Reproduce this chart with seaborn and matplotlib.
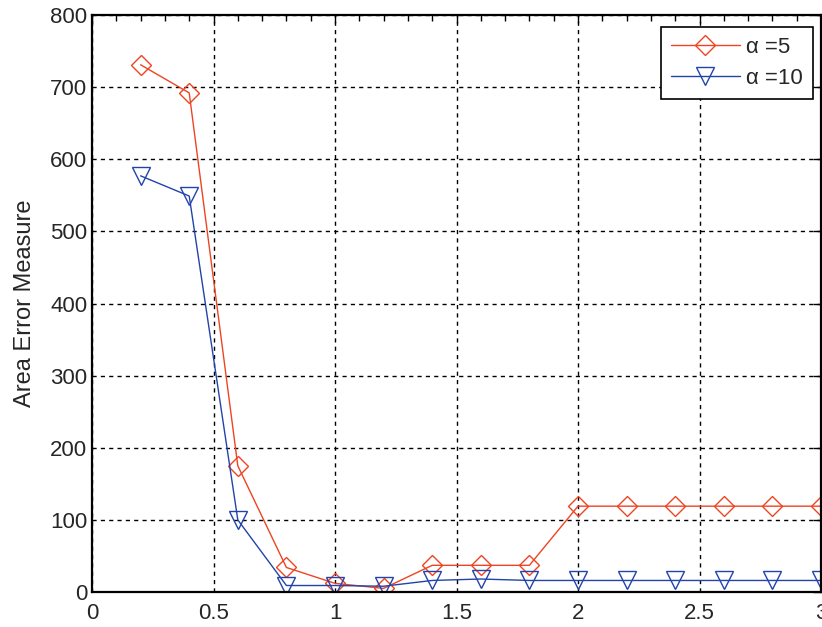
import pandas as pd
import matplotlib.pyplot as plt
import seaborn as sns
from matplotlib.ticker import MultipleLocator

# data
x_vals = [0.2, 0.4, 0.6, 0.8, 1.0, 1.2, 1.4, 1.6, 1.8, 2.0, 2.2, 2.4, 2.6, 2.8, 3.0]
err_a5 = [731, 692, 175, 34, 12, 5, 37, 37, 37, 119, 119, 119, 119, 119, 119]
err_a10 = [577, 549, 100, 9, 9, 8, 16, 18, 16, 16, 16, 16, 16, 16, 16]
labels = ['\u03b1 =5', '\u03b1 =10']

df = pd.DataFrame({
    'x': x_vals * 2,
    'err': err_a5 + err_a10,
    'series': [labels[0]] * len(x_vals) + [labels[1]] * len(x_vals),
})

sns.set_style('white')
plt.rcParams['font.family'] = ['Liberation Sans', 'DejaVu Sans']
plt.rcParams['font.size'] = 16

fig = plt.figure(figsize=(8.22, 6.27), dpi=100)
ax = fig.add_axes([92 / 822, 35 / 627, 729 / 822, 577 / 627])

colors = {labels[0]: '#EE4422', labels[1]: '#2244AA'}
markers = {labels[0]: 'D', labels[1]: 'v'}
sns.lineplot(data=df, x='x', y='err', hue='series', style='series',
             palette=colors, markers=markers, dashes=False, legend=False,
             linewidth=1.0, ax=ax)

for line, lab in zip(ax.lines, labels):
    line.set_markerfacecolor('none')
    line.set_markeredgecolor(colors[lab])
    line.set_markeredgewidth(1.0)
    line.set_markersize(10 if markers[lab] == 'D' else 13)
    line.set_label(lab)

ax.set_xlim(0, 3)
ax.set_ylim(0, 800)
ax.set_xticks([0, 0.5, 1, 1.5, 2, 2.5, 3])
ax.set_xticklabels(['0', '0.5', '1', '1.5', '2', '2.5', '3'])
ax.xaxis.set_minor_locator(MultipleLocator(0.1))
ax.yaxis.set_major_locator(MultipleLocator(100))
ax.tick_params(which='both', direction='in', top=True, right=True, color='black')
ax.tick_params(which='major', length=6, width=1, labelsize=16)
ax.tick_params(axis='x', which='major', pad=8)
ax.tick_params(which='minor', length=4, width=1)
ax.tick_params(axis='y', which='minor', left=False, right=False)

ax.grid(True, which='major', color='black', linestyle=(0, (3, 3)), linewidth=1)
for s in ax.spines.values():
    s.set_color('black')
    s.set_linewidth(1.6)

ax.set_xlabel('')
ax.set_ylabel('Area Error Measure', fontsize=17, labelpad=10)

leg = ax.legend(handles=ax.lines[:2], labels=labels, loc='upper right',
                bbox_to_anchor=(813 / 822, 1 - 27 / 627), bbox_transform=fig.transFigure,
                borderaxespad=0, fancybox=False, framealpha=1, edgecolor='black',
                handlelength=3.1, fontsize=16, handletextpad=0.3, borderpad=0.45,
                labelspacing=0.45)
leg.get_frame().set_linewidth(1.2)

fig.savefig('out.png', dpi=100)
